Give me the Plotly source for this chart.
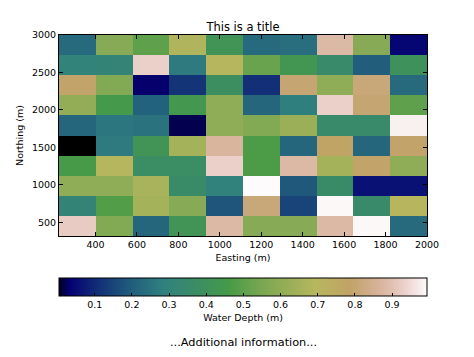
import numpy as np
import plotly.graph_objects as go

# ---- data ----
x_edges = [224, 402, 579, 757, 934, 1112, 1290, 1467, 1645, 1822, 2000]
y_edges = [316, 584, 853, 1121, 1390, 1658, 1926, 2195, 2463, 2732, 3000]

# rows listed from top (Northing ~3000) to bottom (~450)
depth_rows_top_down = [
    [0.23, 0.58, 0.50, 0.68, 0.42, 0.23, 0.24, 0.88, 0.58, 0.04],
    [0.30, 0.31, 0.93, 0.27, 0.69, 0.52, 0.43, 0.35, 0.20, 0.40],
    [0.79, 0.57, 0.03, 0.12, 0.38, 0.11, 0.80, 0.60, 0.81, 0.23],
    [0.61, 0.45, 0.21, 0.44, 0.60, 0.22, 0.28, 0.93, 0.80, 0.50],
    [0.22, 0.26, 0.25, 0.02, 0.60, 0.57, 0.63, 0.35, 0.35, 0.98],
    [0.004, 0.27, 0.42, 0.65, 0.87, 0.47, 0.22, 0.78, 0.22, 0.79],
    [0.46, 0.69, 0.37, 0.37, 0.93, 0.47, 0.88, 0.65, 0.79, 0.60],
    [0.60, 0.60, 0.66, 0.36, 0.29, 0.994, 0.19, 0.36, 0.06, 0.06],
    [0.31, 0.48, 0.65, 0.58, 0.18, 0.81, 0.15, 0.99, 0.35, 0.70],
    [0.92, 0.57, 0.22, 0.42, 0.88, 0.58, 0.58, 0.88, 0.99, 0.23],
]
x_ticks = [400, 600, 800, 1000, 1200, 1400, 1600, 1800, 2000]
y_ticks = [500, 1000, 1500, 2000, 2500, 3000]
cbar_ticks = [0.1, 0.2, 0.3, 0.4, 0.5, 0.6, 0.7, 0.8, 0.9]

# ---- gist_earth colormap (matplotlib segment data) ----
_red = [(0.0, 0.0), (0.2824, 0.1882), (0.4588, 0.2714), (0.5490, 0.4719),
        (0.6980, 0.7176), (0.7882, 0.7553), (1.0, 0.9922)]
_green = [(0.0, 0.0), (0.0275, 0.0), (0.1098, 0.1893), (0.1647, 0.3035),
          (0.2078, 0.3841), (0.2824, 0.5020), (0.5216, 0.6397), (0.6980, 0.7171),
          (0.7882, 0.6392), (0.7922, 0.6413), (0.8000, 0.6447), (0.8078, 0.6481),
          (0.8157, 0.6549), (0.8667, 0.6991), (0.8745, 0.7103), (0.8824, 0.7216),
          (0.8902, 0.7323), (0.8980, 0.7430), (0.9412, 0.8275), (0.9569, 0.8635),
          (0.9647, 0.8816), (0.9961, 0.9733), (1.0, 0.9843)]
_blue = [(0.0, 0.0), (0.0039, 0.1684), (0.0078, 0.2212), (0.0275, 0.4329),
         (0.0314, 0.4549), (0.2824, 0.5004), (0.4667, 0.2748), (0.5451, 0.3205),
         (0.7843, 0.3961), (0.8941, 0.6651), (1.0, 0.9843)]


def _ch(seg, t):
    xs = [p[0] for p in seg]
    ys = [p[1] for p in seg]
    return np.interp(t, xs, ys)


stops = np.unique(np.concatenate([np.linspace(0, 1, 101),
                                  [p[0] for p in _red + _green + _blue]]))
gist_earth = []
for t in stops:
    r, g, b = (int(round(255 * _ch(s, t))) for s in (_red, _green, _blue))
    gist_earth.append([float(t), f"rgb({r},{g},{b})"])

z = depth_rows_top_down[::-1]

font_family = "DejaVu Sans"

# the page body adds an 8px offset, so the figure is sized to fit the window
W, H = 466, 349

fig = go.Figure(
    go.Heatmap(
        x=x_edges,
        y=y_edges,
        z=z,
        colorscale=gist_earth,
        showscale=True,
        colorbar=dict(
            orientation="h",
            x=0, xanchor="left",
            y=-0.209, yanchor="top",
            len=1, lenmode="fraction",
            thickness=18, thicknessmode="pixels",
            xpad=0, ypad=0,
            outlinecolor="black", outlinewidth=1,
            tickvals=cbar_ticks,
            ticktext=[f"{v:.1f}" for v in cbar_ticks],
            ticks="inside", ticklen=3, tickcolor="black",
            tickfont=dict(family=font_family, size=9.5, color="black"),
            title=dict(text="Water Depth (m)", side="bottom",
                       font=dict(family=font_family, size=9.5, color="black")),
        ),
        hoverinfo="x+y+z",
    )
)

fig.update_layout(
    width=W, height=H,
    margin=dict(l=51, r=47, t=27, b=121, autoexpand=False),
    paper_bgcolor="white", plot_bgcolor="white",
    font=dict(family=font_family, size=9.5, color="black"),
    title=dict(text="This is a title", x=0.5, xref="paper", xanchor="center",
               y=1 - 19 / H, yref="container", yanchor="middle",
               font=dict(family=font_family, size=11.5, color="black")),
    xaxis=dict(
        range=[x_edges[0], x_edges[-1]], tickvals=x_ticks,
        ticks="inside", ticklen=4, tickcolor="black",
        showline=True, linecolor="black", linewidth=1, mirror="ticks",
        showgrid=False, zeroline=False, automargin=False,
        title=dict(text="Easting (m)", standoff=4,
                   font=dict(family=font_family, size=9.5)),
    ),
    yaxis=dict(
        range=[y_edges[0], y_edges[-1]], tickvals=y_ticks,
        ticks="inside", ticklen=4, tickcolor="black",
        showline=True, linecolor="black", linewidth=1, mirror="ticks",
        showgrid=False, zeroline=False, automargin=False,
        title=dict(text="Northing (m)", standoff=6,
                   font=dict(family=font_family, size=9.5)),
    ),
    annotations=[dict(
        text="...Additional information...", x=0.5, xref="paper",
        y=-0.532, yref="paper", yanchor="middle", xanchor="center",
        showarrow=False, font=dict(family=font_family, size=11.3, color="black"),
    )],
)

fig.write_html("out.html")
